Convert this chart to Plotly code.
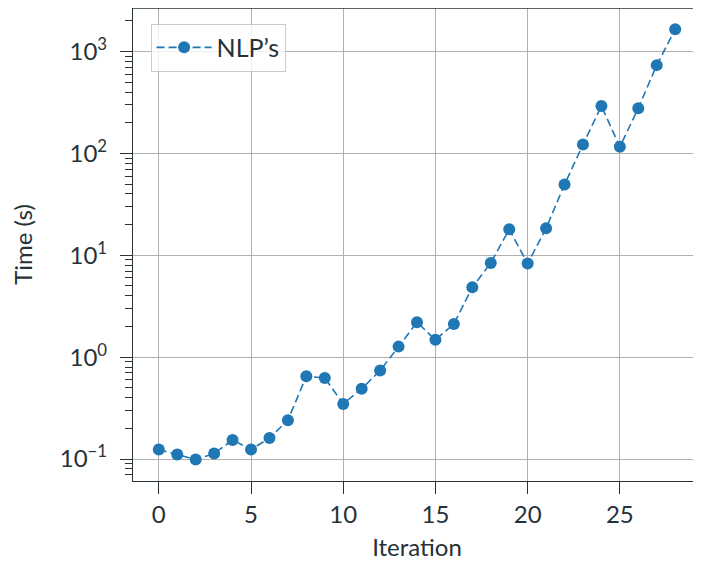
import plotly.graph_objects as go

iterations = list(range(29))
times = [0.124, 0.111, 0.099, 0.1135, 0.154, 0.124, 0.161, 0.241, 0.65, 0.625,
         0.348, 0.49, 0.74, 1.27, 2.2, 1.48, 2.12, 4.85, 8.4, 18.0,
         8.3, 18.4, 49.5, 122, 292, 116, 278, 735, 1650]
series_name = "NLP’s"
x_ticks = [0, 5, 10, 15, 20, 25]
y_tick_vals = [0.1, 1, 10, 100, 1000]
y_tick_text = ["10<sup>−1</sup>", "10<sup>0</sup>", "10<sup>1</sup>", "10<sup>2</sup>", "10<sup>3</sup>"]

TXT = "#263238"
FONT = "Lato"

fig = go.Figure()
fig.add_trace(go.Scatter(
    x=iterations, y=times, name=series_name, mode="lines+markers",
    line=dict(color="#1f77b4", width=1.6, dash="8px,4px"),
    marker=dict(color="#1f77b4", size=12, line=dict(width=0)),
    showlegend=True,
))

fig.update_layout(
    width=693, height=553,
    margin=dict(l=125, r=0, t=0, b=80),
    paper_bgcolor="white", plot_bgcolor="white",
    font=dict(family=FONT, size=24, color=TXT),
    legend=dict(x=0.031, y=0.967, xanchor="left", yanchor="top",
                bgcolor="rgba(255,255,255,0.8)", bordercolor="#cccccc", borderwidth=1,
                itemwidth=55,
                font=dict(size=25, color=TXT)),
    xaxis=dict(
        range=[-1.4, 29.4], tickvals=x_ticks, showgrid=True, gridcolor="#b0b0b0", gridwidth=1,
        zeroline=False, showline=True, linecolor=TXT, linewidth=1.3, automargin=False,
        ticks="outside", ticklen=12, tickwidth=1.3, tickcolor=TXT,
        title=dict(text="Iteration", standoff=13, font=dict(size=24, color=TXT)),
        tickfont=dict(size=24, color=TXT),
    ),
    yaxis=dict(
        type="log", range=[-1.215, 3.427], tickvals=y_tick_vals, ticktext=y_tick_text,
        showgrid=True, gridcolor="#b0b0b0", gridwidth=1, zeroline=False, automargin=False,
        showline=True, linecolor=TXT, linewidth=1.3, ticklabelstandoff=8,
        ticks="outside", ticklen=12, tickwidth=1.3, tickcolor=TXT,
        minor=dict(ticks="outside", ticklen=7, tickwidth=1, tickcolor=TXT, showgrid=False, dtick="D1"),
        title=dict(text="Time (s)", standoff=32, font=dict(size=24, color=TXT)),
        tickfont=dict(size=24, color=TXT),
    ),
    shapes=[dict(type="line", xref="paper", yref="paper", x0=0, x1=1, y0=1, y1=1,
                 line=dict(color=TXT, width=1.3))],
)

fig.write_html("out.html")
